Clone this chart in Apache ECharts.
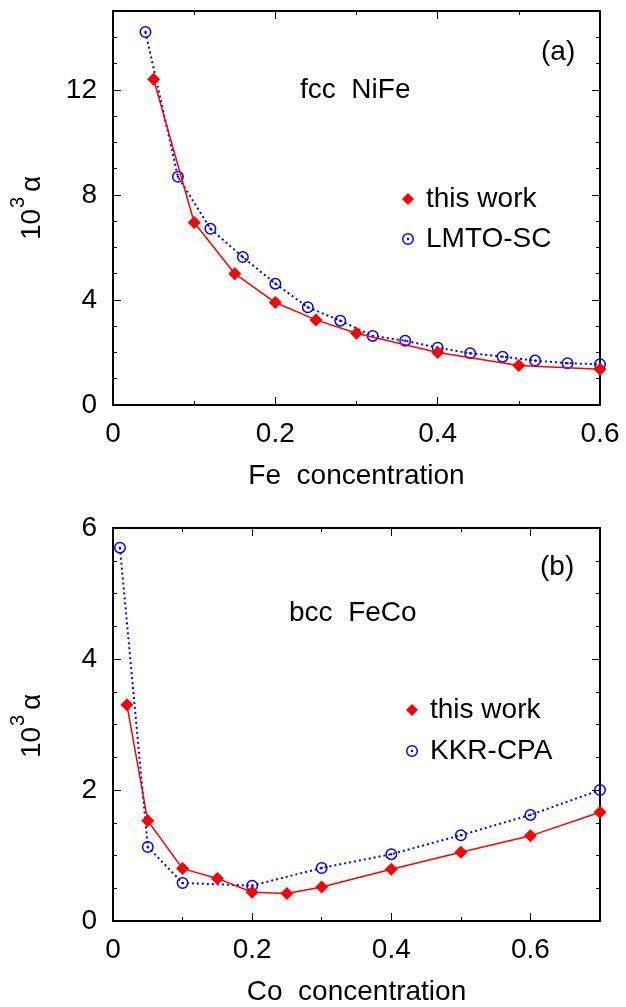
<!DOCTYPE html>
<html><head><meta charset="utf-8">
<script src="https://cdn.jsdelivr.net/npm/echarts@6/dist/echarts.min.js"></script>
<style>html,body{margin:0;padding:0;background:#fff}#c{width:626px;height:1007px}</style>
</head><body><div id="c"></div>
<script>
// ---- Data: panel (a) fcc NiFe ----
const feConc = [0.05, 0.10, 0.15, 0.20, 0.25, 0.30, 0.40, 0.50, 0.60];
const nifeThisWork = [12.4, 6.95, 5.0, 3.9, 3.24, 2.73, 2.0, 1.5, 1.36];
const lmtoConc = [0.04, 0.08, 0.12, 0.16, 0.20, 0.24, 0.28, 0.32, 0.36, 0.40, 0.44, 0.48, 0.52, 0.56, 0.60];
const nifeLmto = [14.2, 8.69, 6.71, 5.63, 4.62, 3.72, 3.21, 2.63, 2.45, 2.18, 1.97, 1.84, 1.69, 1.59, 1.55];
// ---- Data: panel (b) bcc FeCo ----
const coConc = [0.02, 0.05, 0.10, 0.15, 0.20, 0.25, 0.30, 0.40, 0.50, 0.60, 0.70];
const fecoThisWork = [3.30, 1.53, 0.80, 0.65, 0.44, 0.42, 0.52, 0.79, 1.05, 1.30, 1.66];
const kkrConc = [0.01, 0.05, 0.10, 0.20, 0.30, 0.40, 0.50, 0.60, 0.70];
const fecoKkr = [5.70, 1.13, 0.58, 0.54, 0.81, 1.02, 1.31, 1.62, 2.0];
// ---- Tick labels ----
const xLabelsA = ['0', '0.2', '0.4', '0.6'];
const yLabelsA = ['0', '4', '8', '12'];
const xLabelsB = ['0', '0.2', '0.4', '0.6'];
const yLabelsB = ['0', '2', '4', '6'];
const names = ['this work', 'LMTO-SC', 'KKR-CPA'];

const FONT = 'Liberation Sans, Arial, Helvetica, sans-serif';
const FS = 28;
const BLACK = '#000';
const RING = 'path://M0,10A10,10,0,1,0,20,10A10,10,0,1,0,0,10ZM2.5,10A7.5,7.5,0,1,1,17.5,10A7.5,7.5,0,1,1,2.5,10ZM8,10A2,2,0,1,0,12,10A2,2,0,1,0,8,10Z';

function fmt(labels) {
  return v => { const s = String(+v.toFixed(2)); return labels.includes(s) ? s : ''; };
}
function zip(xs, ys) { return xs.map((x, i) => [x, ys[i]]); }

function xAxes(g, max, labels, name) {
  const base = {gridIndex: g, type: 'value', min: 0, max: max, splitLine: {show: false}};
  return [
    Object.assign({}, base, {position: 'bottom', interval: 0.2,
      axisLine: {onZero: false, lineStyle: {color: BLACK, width: 2}},
      axisTick: {inside: true, length: 8, lineStyle: {color: BLACK, width: 1}},
      axisLabel: {fontSize: FS, fontFamily: FONT, color: BLACK, margin: 15, formatter: fmt(labels), showMaxLabel: true},
      name: name, nameLocation: 'middle', nameGap: 57,
      nameTextStyle: {fontSize: FS, fontFamily: FONT, color: BLACK}}),
    Object.assign({}, base, {position: 'bottom', interval: 0.1,
      axisLine: {show: false, onZero: false},
      axisTick: {inside: true, length: 4, lineStyle: {color: BLACK, width: 1}},
      axisLabel: {show: false}}),
    Object.assign({}, base, {position: 'top', interval: 0.2,
      axisLine: {onZero: false, lineStyle: {color: BLACK, width: 2}},
      axisTick: {inside: true, length: 8, lineStyle: {color: BLACK, width: 1}},
      axisLabel: {show: false}}),
    Object.assign({}, base, {position: 'top', interval: 0.1,
      axisLine: {show: false, onZero: false},
      axisTick: {inside: true, length: 4, lineStyle: {color: BLACK, width: 1}},
      axisLabel: {show: false}})
  ];
}
function yAxes(g, max, major, minor, labels) {
  const base = {gridIndex: g, type: 'value', min: 0, max: max, splitLine: {show: false}};
  return [
    Object.assign({}, base, {position: 'left', interval: major,
      axisLine: {onZero: false, lineStyle: {color: BLACK, width: 2}},
      axisTick: {inside: true, length: 8, lineStyle: {color: BLACK, width: 1}},
      axisLabel: {fontSize: FS, fontFamily: FONT, color: BLACK, margin: 16, formatter: fmt(labels)}}),
    Object.assign({}, base, {position: 'left', interval: minor,
      axisLine: {show: false, onZero: false},
      axisTick: {inside: true, length: 4, lineStyle: {color: BLACK, width: 1}},
      axisLabel: {show: false}}),
    Object.assign({}, base, {position: 'right', interval: major,
      axisLine: {onZero: false, lineStyle: {color: BLACK, width: 2}},
      axisTick: {inside: true, length: 8, lineStyle: {color: BLACK, width: 1}},
      axisLabel: {show: false}}),
    Object.assign({}, base, {position: 'right', interval: minor,
      axisLine: {show: false, onZero: false},
      axisTick: {inside: true, length: 4, lineStyle: {color: BLACK, width: 1}},
      axisLabel: {show: false}})
  ];
}

function redSeries(xi, yi, data) {
  return {type: 'line', name: names[0], xAxisIndex: xi, yAxisIndex: yi, data: data, clip: false,
    symbol: 'diamond', symbolSize: 13, color: '#ff0000',
    itemStyle: {color: '#ff0000'}, lineStyle: {color: '#ff0000', width: 1.5}, z: 3};
}
function blueSeries(name, xi, yi, data) {
  return {type: 'line', name: name, xAxisIndex: xi, yAxisIndex: yi, data: data, clip: false,
    symbol: RING, symbolSize: 12, symbolKeepAspect: true, color: '#0000ff',
    itemStyle: {color: '#0000ff'}, lineStyle: {color: '#0000ff', width: 2, type: [2, 3]}, z: 2};
}

function rtext(text, x, y, size) {
  return {type: 'text', x: x, y: y, rotation: Math.PI / 2,
    style: {text: text, fontSize: size, fontFamily: FONT, fill: BLACK, align: 'left', verticalAlign: 'middle'}};
}
function ytitle(yBottom) {
  return [
    rtext('10', 32, yBottom, FS),
    rtext('3', 18, yBottom - 32, 20),
    rtext('α', 32, yBottom - 48, FS)
  ];
}
function label(text, x, y) {
  return {type: 'text', x: x, y: y,
    style: {text: text, fontSize: FS, fontFamily: FONT, fill: BLACK, align: 'left', verticalAlign: 'middle'}};
}

const legendText = {fontSize: FS, fontFamily: FONT, color: BLACK, lineHeight: 30, padding: [0, 0, 0, 7]};

const chart = echarts.init(document.getElementById('c'), null, {renderer: 'canvas'});
chart.setOption({
  backgroundColor: '#fff',
  animation: false,
  grid: [
    {left: 113, top: 11, width: 487, height: 394, containLabel: false},
    {left: 113, top: 528, width: 487, height: 394, containLabel: false}
  ],
  xAxis: xAxes(0, 0.6, xLabelsA, 'Fe  concentration').concat(xAxes(1, 0.7, xLabelsB, 'Co  concentration')),
  yAxis: yAxes(0, 15, 4, 1, yLabelsA).concat(yAxes(1, 6, 2, 0.5, yLabelsB)),
  legend: [
    {left: 397, top: 179, orient: 'vertical', itemWidth: 12, itemHeight: 12, itemGap: 10, selectedMode: false,
     textStyle: legendText,
     data: [{name: names[0], icon: 'diamond'}, {name: names[1], icon: RING}]},
    {left: 401, top: 690, orient: 'vertical', itemWidth: 12, itemHeight: 12, itemGap: 11, selectedMode: false,
     textStyle: legendText,
     data: [{name: names[0], icon: 'diamond'}, {name: names[2], icon: RING}]}
  ],
  graphic: [
    label('fcc  NiFe', 300, 90),
    label('(a)', 541, 52),
    label('bcc  FeCo', 289, 613),
    label('(b)', 540, 567)
  ].concat(ytitle(240), ytitle(758)),
  series: [
    blueSeries(names[1], 0, 0, zip(lmtoConc, nifeLmto)),
    redSeries(0, 0, zip(feConc, nifeThisWork)),
    blueSeries(names[2], 4, 4, zip(kkrConc, fecoKkr)),
    redSeries(4, 4, zip(coConc, fecoThisWork))
  ]
});
</script>
</body></html>
